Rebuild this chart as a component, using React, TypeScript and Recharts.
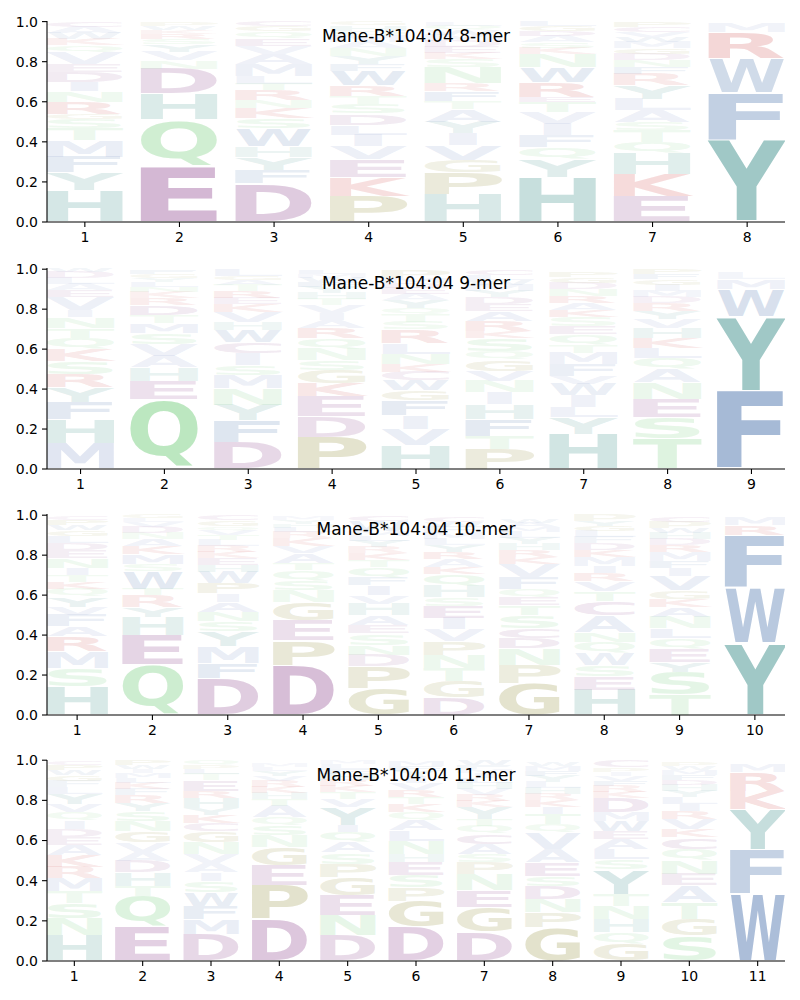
import { BarChart, Bar, XAxis, YAxis } from "recharts";

// stacked letters per position, bottom to top
const LETTERS_8MER = [
  "HYFMTSGRNIDEVQKWAC",
  "EQHDNVYSRKWP",
  "DFYHWSKNRTLMAVEQGC",
  "PKEVILDSTRWFYNAMQHG",
  "HPGVIYATFRNSKEDMWQL",
  "HYQFIVTERWNKSADGL",
  "EKHQTSALYRFNDGMWVCP",
  "YFWRM",
];
const HEIGHTS_8MER = [
  [0.156, 0.09, 0.078, 0.083, 0.06, 0.046, 0.025, 0.06, 0.055, 0.046, 0.05, 0.04, 0.058, 0.035, 0.03, 0.03, 0.03, 0.028],
  [0.275, 0.235, 0.13, 0.125, 0.04, 0.045, 0.035, 0.03, 0.025, 0.02, 0.02, 0.02],
  [0.192, 0.066, 0.063, 0.055, 0.09, 0.05, 0.05, 0.04, 0.05, 0.033, 0.04, 0.06, 0.05, 0.04, 0.035, 0.036, 0.025, 0.025],
  [0.126, 0.095, 0.09, 0.066, 0.058, 0.05, 0.055, 0.05, 0.04, 0.05, 0.075, 0.035, 0.04, 0.04, 0.03, 0.03, 0.025, 0.025, 0.02],
  [0.14, 0.108, 0.061, 0.075, 0.058, 0.058, 0.063, 0.04, 0.05, 0.04, 0.08, 0.04, 0.03, 0.03, 0.03, 0.03, 0.025, 0.022, 0.02],
  [0.225, 0.09, 0.058, 0.058, 0.058, 0.058, 0.05, 0.025, 0.075, 0.075, 0.066, 0.03, 0.03, 0.03, 0.025, 0.025, 0.025],
  [0.126, 0.111, 0.104, 0.058, 0.058, 0.041, 0.058, 0.058, 0.066, 0.058, 0.035, 0.035, 0.03, 0.03, 0.03, 0.025, 0.025, 0.025, 0.025],
  [0.41, 0.235, 0.17, 0.13, 0.045],
];

const LETTERS_9MER = [
  "MHFYRSKQTNIVEALDW",
  "QEHAVSMTDRKNLYGF",
  "DFYNMSICWHVKERTAGL",
  "PDEKGSNQRAIVTHYFWML",
  "HVIFGWCKNLRSTQYAEDMP",
  "PTFHINVGQSKRAEDYMWLC",
  "HYLIWVFMTQESKARNDGP",
  "TSENAQLKHVYRDMIGFP",
  "FYWML",
];
const HEIGHTS_9MER = [
  [0.126, 0.121, 0.086, 0.075, 0.066, 0.066, 0.058, 0.058, 0.05, 0.055, 0.035, 0.065, 0.035, 0.03, 0.03, 0.03, 0.02],
  [0.35, 0.091, 0.066, 0.058, 0.058, 0.058, 0.05, 0.04, 0.05, 0.035, 0.03, 0.025, 0.025, 0.02, 0.02, 0.02],
  [0.134, 0.108, 0.078, 0.083, 0.066, 0.05, 0.058, 0.058, 0.06, 0.04, 0.05, 0.04, 0.03, 0.035, 0.03, 0.025, 0.02, 0.035],
  [0.16, 0.103, 0.1, 0.066, 0.066, 0.05, 0.058, 0.05, 0.05, 0.04, 0.035, 0.04, 0.03, 0.03, 0.03, 0.025, 0.025, 0.02, 0.022],
  [0.118, 0.083, 0.066, 0.075, 0.05, 0.05, 0.045, 0.04, 0.05, 0.05, 0.07, 0.04, 0.04, 0.03, 0.04, 0.03, 0.03, 0.025, 0.025, 0.04],
  [0.1, 0.066, 0.083, 0.075, 0.058, 0.058, 0.05, 0.058, 0.041, 0.066, 0.035, 0.05, 0.05, 0.035, 0.035, 0.03, 0.03, 0.025, 0.025, 0.03],
  [0.176, 0.083, 0.05, 0.058, 0.058, 0.041, 0.058, 0.058, 0.041, 0.05, 0.04, 0.045, 0.035, 0.035, 0.035, 0.035, 0.03, 0.03, 0.025],
  [0.151, 0.108, 0.091, 0.083, 0.066, 0.058, 0.05, 0.05, 0.05, 0.045, 0.04, 0.04, 0.03, 0.03, 0.03, 0.028, 0.025, 0.025],
  [0.39, 0.375, 0.135, 0.05, 0.03],
];

const LETTERS_10MER = [
  "HSMRAFVYQKTINEDLGWPC",
  "QEHYRTWSMKANDVLG",
  "DFMYSNAIPWHEKRLTVQGC",
  "DPEGNSQTAVKRLHYM",
  "GPDNSEAHVIFQTKRYLMWC",
  "DGTNPVIESHQKARYLMFWC",
  "GPNDCSTEQFVKRHYLMAW",
  "HESWQNACTVRIMKDFLGYP",
  "TSYEQLNAKGVIFMRDHWPC",
  "YWFRM",
];
const HEIGHTS_10MER = [
  [0.143, 0.091, 0.083, 0.075, 0.05, 0.058, 0.041, 0.05, 0.04, 0.035, 0.035, 0.035, 0.05, 0.04, 0.035, 0.035, 0.03, 0.025, 0.025, 0.02],
  [0.25, 0.149, 0.091, 0.05, 0.058, 0.033, 0.09, 0.035, 0.05, 0.04, 0.035, 0.03, 0.03, 0.025, 0.02, 0.02],
  [0.184, 0.075, 0.083, 0.075, 0.05, 0.05, 0.05, 0.041, 0.05, 0.058, 0.033, 0.035, 0.03, 0.03, 0.03, 0.025, 0.025, 0.02, 0.03, 0.026],
  [0.25, 0.124, 0.1, 0.091, 0.058, 0.05, 0.05, 0.035, 0.05, 0.035, 0.04, 0.03, 0.025, 0.02, 0.02, 0.02],
  [0.134, 0.108, 0.058, 0.05, 0.058, 0.041, 0.05, 0.058, 0.041, 0.05, 0.04, 0.05, 0.035, 0.035, 0.03, 0.03, 0.025, 0.025, 0.052, 0.03],
  [0.085, 0.083, 0.066, 0.066, 0.07, 0.058, 0.058, 0.06, 0.041, 0.058, 0.06, 0.035, 0.04, 0.035, 0.035, 0.03, 0.03, 0.03, 0.025, 0.025],
  [0.16, 0.091, 0.083, 0.05, 0.05, 0.066, 0.05, 0.04, 0.04, 0.058, 0.065, 0.035, 0.035, 0.03, 0.03, 0.03, 0.025, 0.025, 0.02],
  [0.126, 0.066, 0.058, 0.058, 0.058, 0.05, 0.083, 0.07, 0.05, 0.05, 0.04, 0.035, 0.045, 0.035, 0.035, 0.03, 0.03, 0.025, 0.025, 0.03],
  [0.1, 0.116, 0.05, 0.066, 0.05, 0.05, 0.058, 0.05, 0.041, 0.041, 0.075, 0.04, 0.035, 0.045, 0.035, 0.03, 0.03, 0.025, 0.03, 0.03],
  [0.36, 0.275, 0.265, 0.05, 0.04],
];

const LETTERS_11MER = [
  "HNSTMRKAEDIQVYLFGWPC",
  "EQTHDAVGNSYRFKLMIWP",
  "DMFWSIAVNGCKYHRETLPQ",
  "DPEGNSQATHKRVYLM",
  "DNEGPSAQIYVTKRHFLM",
  "DGPSEHNLAQKTRVIYFM",
  "DGENPSACQTYKRVHLIMFW",
  "GPNDSEAVQTIKRHLYFMW",
  "GQHNTYSLAEWMDKRFVIPC",
  "SGTAENQCKVRILYHDFMWP",
  "WFYKRM",
];
const HEIGHTS_11MER = [
  [0.126, 0.086, 0.075, 0.058, 0.066, 0.058, 0.058, 0.05, 0.041, 0.041, 0.041, 0.041, 0.041, 0.05, 0.035, 0.03, 0.03, 0.025, 0.025, 0.02],
  [0.167, 0.157, 0.05, 0.066, 0.058, 0.045, 0.045, 0.058, 0.05, 0.05, 0.041, 0.04, 0.03, 0.03, 0.025, 0.025, 0.02, 0.02, 0.023],
  [0.134, 0.075, 0.066, 0.066, 0.058, 0.041, 0.045, 0.045, 0.058, 0.058, 0.04, 0.04, 0.035, 0.05, 0.035, 0.055, 0.03, 0.025, 0.02, 0.025],
  [0.209, 0.166, 0.1, 0.091, 0.058, 0.05, 0.041, 0.058, 0.035, 0.03, 0.03, 0.03, 0.025, 0.025, 0.02, 0.02],
  [0.126, 0.1, 0.1, 0.091, 0.066, 0.058, 0.05, 0.05, 0.033, 0.09, 0.04, 0.035, 0.03, 0.03, 0.03, 0.025, 0.025, 0.02],
  [0.167, 0.13, 0.07, 0.06, 0.066, 0.04, 0.066, 0.05, 0.05, 0.04, 0.04, 0.035, 0.035, 0.035, 0.03, 0.03, 0.025, 0.025],
  [0.143, 0.124, 0.083, 0.083, 0.058, 0.041, 0.05, 0.05, 0.041, 0.035, 0.058, 0.03, 0.03, 0.03, 0.03, 0.025, 0.025, 0.02, 0.02, 0.024],
  [0.167, 0.075, 0.066, 0.066, 0.05, 0.066, 0.066, 0.083, 0.041, 0.05, 0.035, 0.035, 0.03, 0.03, 0.03, 0.03, 0.025, 0.025, 0.02],
  [0.085, 0.058, 0.066, 0.066, 0.058, 0.124, 0.05, 0.05, 0.05, 0.041, 0.05, 0.045, 0.07, 0.03, 0.03, 0.025, 0.025, 0.02, 0.02, 0.035],
  [0.126, 0.083, 0.083, 0.083, 0.058, 0.066, 0.058, 0.058, 0.041, 0.05, 0.04, 0.035, 0.035, 0.03, 0.03, 0.025, 0.025, 0.025, 0.02, 0.02],
  [0.335, 0.22, 0.2, 0.092, 0.095, 0.038],
];

const PANELS = [
  { title: "Mane-B*104:04 8-mer", letters: LETTERS_8MER, heights: HEIGHTS_8MER },
  { title: "Mane-B*104:04 9-mer", letters: LETTERS_9MER, heights: HEIGHTS_9MER },
  { title: "Mane-B*104:04 10-mer", letters: LETTERS_10MER, heights: HEIGHTS_10MER },
  { title: "Mane-B*104:04 11-mer", letters: LETTERS_11MER, heights: HEIGHTS_11MER },
];

const Y_TICKS = [0, 0.2, 0.4, 0.6, 0.8, 1];

const COLORS: Record<string, string> = {
  D: "#c8a5c8", E: "#c8a5c8", C: "#c8a5c8",
  Q: "#bae6be", N: "#bae6be", S: "#bae6be", T: "#bae6be",
  H: "#aacfcb", Y: "#a0c8c6",
  F: "#a6bad6", W: "#a6bad6",
  K: "#e6a0a0", R: "#e6a0a0",
  P: "#c9c79d", G: "#c9c79d",
};
const OTHER_COLOR = "#b7c3e0";

// rough DejaVu Sans Bold metrics in em: [advance, left bearing, right bearing]
const METRICS: Record<string, [number, number, number]> = {
  A: [0.774, 0.0, 0.0], C: [0.734, 0.05, 0.06], D: [0.83, 0.094, 0.05],
  E: [0.683, 0.094, 0.07], F: [0.683, 0.094, 0.07], G: [0.821, 0.05, 0.07],
  H: [0.837, 0.094, 0.094], I: [0.372, 0.094, 0.094], K: [0.775, 0.094, 0.0],
  L: [0.637, 0.094, 0.04], M: [0.995, 0.094, 0.094], N: [0.837, 0.094, 0.094],
  P: [0.733, 0.094, 0.05], Q: [0.85, 0.05, 0.05], R: [0.77, 0.094, 0.01],
  S: [0.72, 0.06, 0.06], T: [0.682, 0.01, 0.01], V: [0.774, 0.01, 0.01],
  W: [1.103, 0.02, 0.02], Y: [0.724, 0.0, 0.0],
};
const inkW = (ch: string) => {
  const m = METRICS[ch] ?? [0.7, 0.05, 0.05];
  return m[0] - m[1] - m[2];
};
const E_INK = inkW("E");

function glyphBox(ch: string): [number, number] {
  if (ch === "Q") return [-0.17, 0.742];
  if ("CGOS".includes(ch)) return [-0.014, 0.742];
  return [0, 0.729];
}

const W = 800;
const H = 246;
const PLOT_W = 738;
const FS = 100;

function LetterShape(props: any) {
  const { x, y, width, height, payload, idx } = props;
  if (!height || height <= 0.5 || !payload) return <g />;
  const ch: string = payload.letters[idx];
  const v: number = payload[`s${idx}`];
  const [bot, top] = glyphBox(ch);
  const hh = height * 0.96;
  const y0 = y + height - height * 0.02;
  const sy = hh / (FS * (top - bot));
  const ink = inkW(ch);
  const kx = width / (Math.max(ink, E_INK) * FS);
  const off = (width - ink * FS * kx) / 2;
  const lsb = (METRICS[ch] ?? [0.7, 0.05, 0.05])[1];
  const tx = x + off - lsb * FS * kx;
  const op = Math.min(1, 0.1 + 2.5 * v);
  return (
    <g transform={`translate(${tx} ${y0}) scale(${kx} ${sy})`}>
      <text
        x={0}
        y={FS * bot}
        fontSize={FS}
        fontFamily="DejaVu Sans"
        fontWeight="bold"
        fill={COLORS[ch] ?? OTHER_COLOR}
        fillOpacity={op}
      >
        {ch}
      </text>
    </g>
  );
}

function LogoPanel({ title, letters, heights, top }: any) {
  const n = letters.length;
  const maxLen = Math.max(...letters.map((s: string) => s.length));
  const data = letters.map((s: string, i: number) => {
    const row: any = { pos: i + 1, letters: s };
    heights[i].forEach((h: number, k: number) => (row[`s${k}`] = h));
    return row;
  });
  const ticks = Array.from({ length: n }, (_, i) => i + 1);
  const barSize = (0.8 * PLOT_W) / (n - 0.2);
  const tickStyle = { fill: "#000", fontSize: 14, fontFamily: "DejaVu Sans" };

  return (
    <div style={{ position: "absolute", left: 0, top, width: W, height: H }}>
      <BarChart
        width={W}
        height={H}
        data={data}
        margin={{ top: 21, right: 15, bottom: 0, left: 0 }}
        barSize={barSize}
      >
        <XAxis
          dataKey="pos"
          type="number"
          domain={[0.6, n + 0.4]}
          ticks={ticks}
          allowDataOverflow
          height={24}
          tickSize={5}
          tickMargin={5}
          tick={tickStyle}
          axisLine={{ stroke: "#000", strokeWidth: 1.1 }}
          tickLine={{ stroke: "#000", strokeWidth: 1.1 }}
        />
        <YAxis
          type="number"
          domain={[0, 1]}
          ticks={Y_TICKS}
          width={47}
          tickSize={5}
          tickMargin={4}
          tick={tickStyle}
          tickFormatter={(v: number) => v.toFixed(1)}
          axisLine={{ stroke: "#000", strokeWidth: 1.1 }}
          tickLine={{ stroke: "#000", strokeWidth: 1.1 }}
        />
        {Array.from({ length: maxLen }, (_, k) => (
          <Bar
            key={k}
            dataKey={`s${k}`}
            stackId="logo"
            isAnimationActive={false}
            shape={(p: any) => <LetterShape {...p} idx={k} />}
          />
        ))}
      </BarChart>
      <div
        style={{
          position: "absolute",
          left: 47,
          top: 28,
          width: PLOT_W,
          textAlign: "center",
          fontFamily: "DejaVu Sans",
          fontSize: 17,
          lineHeight: "17px",
          color: "#000",
          whiteSpace: "nowrap",
        }}
      >
        {title}
      </div>
    </div>
  );
}

export default function App() {
  const tops = [0, 247, 493, 739];
  return (
    <div style={{ position: "absolute", left: 0, top: 0, width: W, height: 1000, background: "#fff" }}>
      {PANELS.map((p, i) => (
        <LogoPanel key={p.title} title={p.title} letters={p.letters} heights={p.heights} top={tops[i]} />
      ))}
    </div>
  );
}
